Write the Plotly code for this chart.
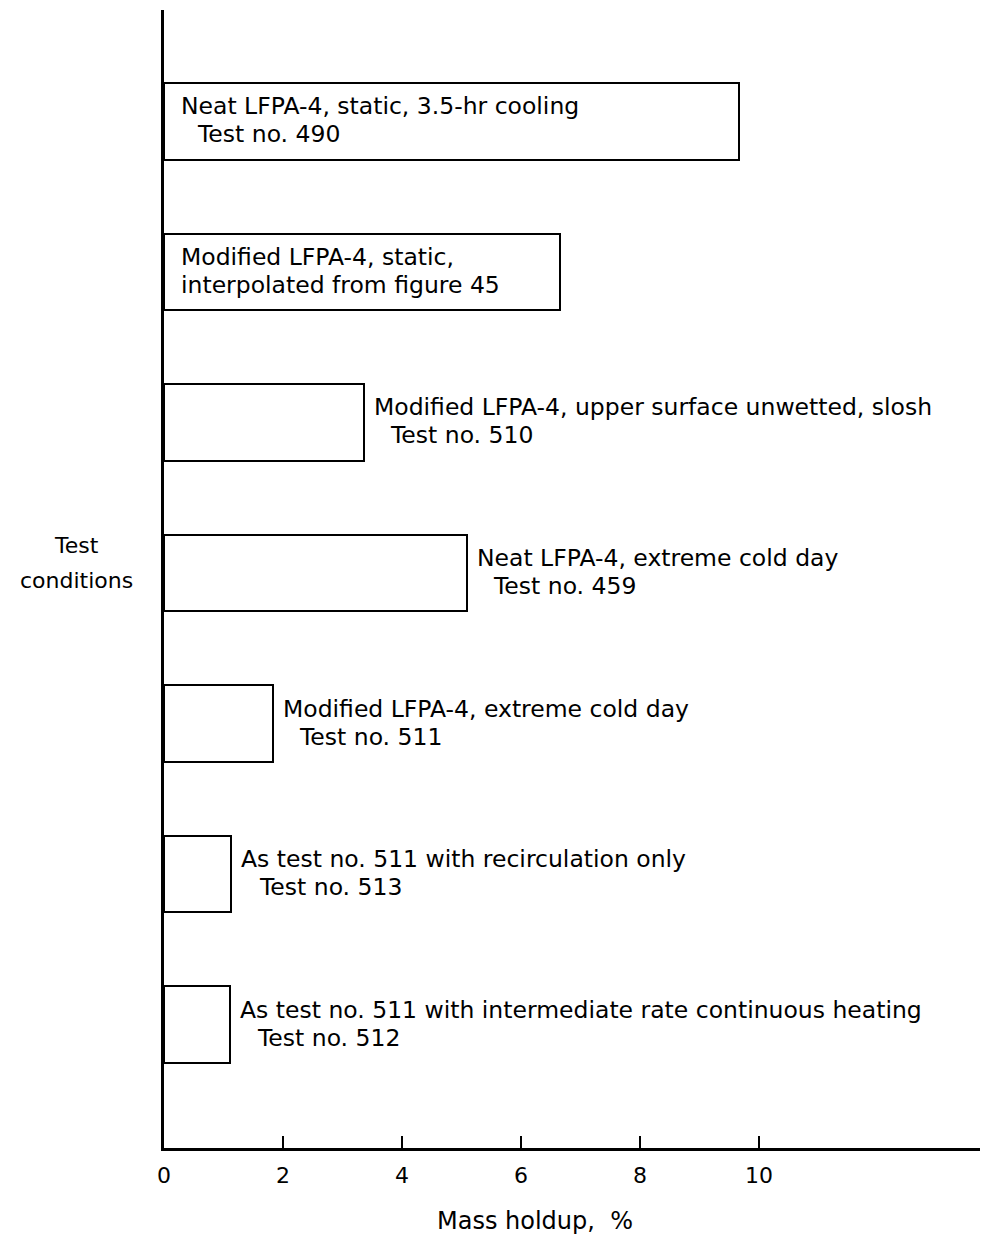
import plotly.graph_objects as go

line1 = [
    "Neat LFPA-4, static, 3.5-hr cooling",
    "Modified LFPA-4, static,",
    "Modified LFPA-4, upper surface unwetted, slosh",
    "Neat LFPA-4, extreme cold day",
    "Modified LFPA-4, extreme cold day",
    "As test no. 511 with recirculation only",
    "As test no. 511 with intermediate rate continuous heating",
]
line2 = [
    "Test no. 490",
    "interpolated from figure 45",
    "Test no. 510",
    "Test no. 459",
    "Test no. 511",
    "Test no. 513",
    "Test no. 512",
]
holdup = [9.66, 6.66, 3.36, 5.09, 1.83, 1.13, 1.11]
label_inside = [True, True, False, False, False, False, False]
line2_indent = [16, 0, 16, 16, 16, 18, 17]
ypos = list(range(len(holdup) - 1, -1, -1))  # top to bottom
tick_vals = [0, 2, 4, 6, 8, 10]

FONT = "DejaVu Sans, Verdana, sans-serif"
FS = 23.5

fig = go.Figure()
fig.add_trace(go.Bar(
    x=holdup, y=ypos, orientation="h", width=0.51,
    marker=dict(color="white", line=dict(color="black", width=2)),
    hoverinfo="skip", showlegend=False,
))

annotations = []
for a, b, v, inside, ind, y in zip(line1, line2, holdup, label_inside, line2_indent, ypos):
    x0 = 0 if inside else v
    shift = 15 if inside else 8
    annotations.append(dict(x=x0, y=y, xref="x", yref="y", text=a, showarrow=False,
                            xanchor="left", yanchor="middle", xshift=shift, yshift=15,
                            font=dict(family=FONT, size=FS, color="black")))
    annotations.append(dict(x=x0, y=y, xref="x", yref="y", text=b, showarrow=False,
                            xanchor="left", yanchor="middle", xshift=shift + ind, yshift=-13,
                            font=dict(family=FONT, size=FS, color="black")))

annotations.append(dict(x=0, y=0.5, xref="paper", yref="paper", text="Test",
                        showarrow=False, xanchor="center", yanchor="middle",
                        xshift=-88, yshift=34,
                        font=dict(family=FONT, size=22, color="black")))
annotations.append(dict(x=0, y=0.5, xref="paper", yref="paper", text="conditions",
                        showarrow=False, xanchor="center", yanchor="middle",
                        xshift=-88, yshift=-1,
                        font=dict(family=FONT, size=22, color="black")))
annotations.append(dict(x=0, y=0, xref="paper", yref="paper",
                        text="Mass holdup,  %", showarrow=False,
                        xanchor="center", yanchor="middle", xshift=371, yshift=-73,
                        font=dict(family=FONT, size=24, color="black")))
fig.update_layout(annotations=annotations)

fig.update_xaxes(range=[0, 13.85], tickvals=tick_vals, ticks="inside", ticklen=12,
                 tickwidth=2, tickcolor="black", showline=True, linewidth=3, linecolor="black",
                 showgrid=False, zeroline=False, ticklabelstandoff=6,
                 tickfont=dict(family=FONT, size=22, color="black"))
fig.update_yaxes(range=[-0.82, 6.74], showticklabels=False, ticks="", showline=True,
                 linewidth=3, linecolor="black", showgrid=False, zeroline=False)

fig.update_layout(
    width=980, height=1227,
    margin=dict(l=156, r=0, t=2, b=87),
    plot_bgcolor="white", paper_bgcolor="white",
    bargap=0,
)

fig.write_html("out.html")
